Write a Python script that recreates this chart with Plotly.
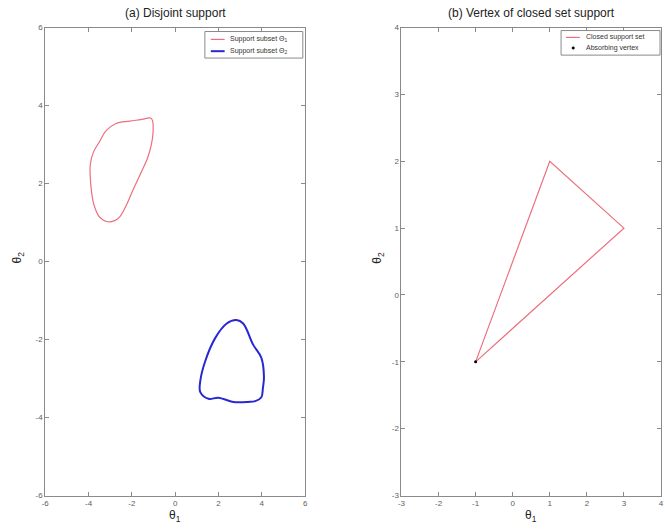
import plotly.graph_objects as go

# ---- data ----
subset1_x = [-1.13, -1.6, -2.1, -2.73, -3.2, -3.49, -3.78, -3.92, -3.92, -3.87, -3.75, -3.49, -3.11, -2.80,
             -2.57, -2.25, -1.96, -1.6, -1.28, -1.10, -1.02, -1.05, -1.13]
subset1_y = [3.68, 3.64, 3.60, 3.54, 3.35, 3.08, 2.8, 2.49, 2.15, 1.82, 1.45, 1.14, 1.02, 1.05,
             1.14, 1.45, 1.82, 2.25, 2.65, 3.0, 3.33, 3.62, 3.68]
subset2_x = [2.83, 3.14, 3.60, 3.98, 4.10, 4.05, 3.98, 3.70, 3.37, 2.68, 2.0, 1.54, 1.16, 1.16, 1.39,
             1.84, 2.38, 2.83]
subset2_y = [-1.50, -1.59, -2.13, -2.47, -2.97, -3.25, -3.48, -3.58, -3.60, -3.60, -3.49, -3.52, -3.35,
             -3.06, -2.55, -1.97, -1.59, -1.50]
triangle_x = [-1, 1, 3, -1]
triangle_y = [-1, 2, 1, -1]
vertex_x = [-1]
vertex_y = [-1]

ticks_a = [-6, -4, -2, 0, 2, 4, 6]
ticks_a_text = ["-6", "-4", "-2", "0", "2", "4", "6"]
ticks_bx = [-3, -2, -1, 0, 1, 2, 3, 4]
ticks_bx_text = ["-3", "-2", "-1", "0", "1", "2", "3", "4"]
ticks_by = [-3, -2, -1, 0, 1, 2, 3, 4]
ticks_by_text = ["-3", "-2", "-1", "0", "1", "2", "3", "4"]

legend_a_names = ["Support subset Θ<sub>1</sub>", "Support subset Θ<sub>2</sub>"]
legend_b_names = ["Closed support set", "Absorbing vertex"]

W, H = 665, 531
FONT = "Arial, Liberation Sans, sans-serif"
AX = "#8a8a8a"
TICKFONT = dict(family=FONT, size=8, color="#606060")
RED = "rgb(238,110,125)"
BLUE = "rgb(40,40,210)"

fig = go.Figure()
fig.add_trace(go.Scatter(x=subset1_x, y=subset1_y, mode="lines", line=dict(color=RED, width=1.2, shape="spline"),
                         name=legend_a_names[0], xaxis="x", yaxis="y"))
fig.add_trace(go.Scatter(x=subset2_x, y=subset2_y, mode="lines", line=dict(color=BLUE, width=2, shape="spline"),
                         name=legend_a_names[1], xaxis="x", yaxis="y"))
fig.add_trace(go.Scatter(x=triangle_x, y=triangle_y, mode="lines", line=dict(color=RED, width=1.2),
                         name=legend_b_names[0], xaxis="x2", yaxis="y2"))
fig.add_trace(go.Scatter(x=vertex_x, y=vertex_y, mode="markers", marker=dict(color="black", size=3),
                         name=legend_b_names[1], xaxis="x2", yaxis="y2"))


def px_x(p):
    return p / W


def px_y(p):
    return 1 - p / H


common = dict(showgrid=False, zeroline=False, showline=True, linecolor=AX, linewidth=1, mirror="ticks",
              ticks="inside", ticklen=4, tickcolor=AX, tickfont=TICKFONT)

fig.update_layout(
    width=W, height=H, margin=dict(l=0, r=0, t=0, b=0),
    paper_bgcolor="white", plot_bgcolor="white", showlegend=False,
    xaxis=dict(domain=[px_x(41.7), px_x(304.3)], range=[-6, 6], tickvals=ticks_a, ticktext=ticks_a_text,
               anchor="y", **common),
    yaxis=dict(domain=[px_y(500), px_y(24)], range=[-6, 6], tickvals=ticks_a, ticktext=ticks_a_text,
               anchor="x", **common),
    xaxis2=dict(domain=[px_x(401.7), px_x(664)], range=[-3, 4], tickvals=ticks_bx, ticktext=ticks_bx_text,
                anchor="y2", **common),
    yaxis2=dict(domain=[px_y(500), px_y(24)], range=[-3, 4], tickvals=ticks_by, ticktext=ticks_by_text,
                anchor="x2", **common),
)

ann = [
    dict(text="(a) Disjoint support", x=px_x(173), y=px_y(9)),
    dict(text="(b) Vertex of closed set support", x=px_x(533), y=px_y(9)),
    dict(text="θ<sub>1</sub>", x=px_x(173), y=px_y(521)),
    dict(text="θ<sub>1</sub>", x=px_x(533), y=px_y(521)),
    dict(text="θ<sub>2</sub>", x=px_x(14), y=px_y(258), textangle=-90),
    dict(text="θ<sub>2</sub>", x=px_x(378), y=px_y(258), textangle=-90),
]
for a in ann:
    fig.add_annotation(xref="paper", yref="paper", showarrow=False, xanchor="center", yanchor="middle",
                       font=dict(family=FONT, size=12, color="#222"), **a)

# ---- hand-drawn legends (compact, MATLAB style) ----
LEGFONT = dict(family=FONT, size=7, color="#333")


def legend_box(x0, x1, y0, y1):
    fig.add_shape(type="rect", xref="paper", yref="paper", x0=px_x(x0), x1=px_x(x1), y0=px_y(y1), y1=px_y(y0),
                  line=dict(color=AX, width=1), fillcolor="white", layer="above")


def legend_text(x, y, text):
    fig.add_annotation(xref="paper", yref="paper", x=px_x(x), y=px_y(y), text=text, showarrow=False,
                       xanchor="left", yanchor="middle", font=LEGFONT)


legend_box(203, 302, 28, 55)
fig.add_shape(type="line", xref="paper", yref="paper", x0=px_x(209), x1=px_x(223), y0=px_y(36), y1=px_y(36),
              line=dict(color=RED, width=1.2), layer="above")
fig.add_shape(type="line", xref="paper", yref="paper", x0=px_x(209), x1=px_x(223), y0=px_y(48), y1=px_y(48),
              line=dict(color=BLUE, width=2), layer="above")
legend_text(226, 36, legend_a_names[0])
legend_text(226, 48, legend_a_names[1])

legend_box(563, 663, 27, 52)
fig.add_shape(type="line", xref="paper", yref="paper", x0=px_x(568), x1=px_x(582), y0=px_y(34), y1=px_y(34),
              line=dict(color=RED, width=1.2), layer="above")
fig.add_shape(type="circle", xref="paper", yref="paper", x0=px_x(574), x1=px_x(576.5), y0=px_y(46), y1=px_y(43.5),
              line=dict(color="black", width=0.5), fillcolor="black", layer="above")
legend_text(586, 34, legend_b_names[0])
legend_text(586, 45, legend_b_names[1])

fig.write_html("out.html", config={"displayModeBar": False},
               post_script="document.body.style.margin='0px';document.body.style.overflow='hidden';")
